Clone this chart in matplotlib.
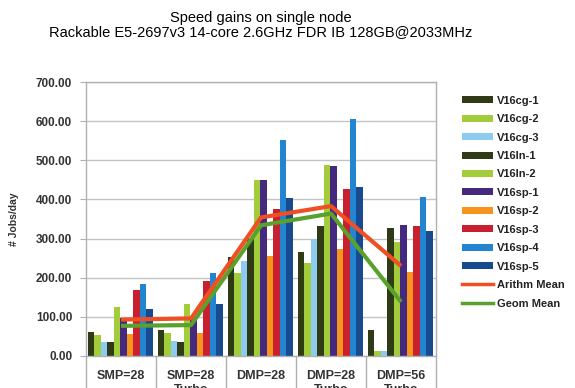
import numpy as np
import matplotlib.pyplot as plt
from matplotlib.patches import Patch
from matplotlib.lines import Line2D

plt.rcParams["font.family"] = ["Liberation Sans", "DejaVu Sans"]

categories = ["SMP=28", "SMP=28\nTurbo", "DMP=28", "DMP=28\nTurbo", "DMP=56\nTurbo"]

series_names = ["V16cg-1", "V16cg-2", "V16cg-3", "V16ln-1", "V16ln-2",
                "V16sp-1", "V16sp-2", "V16sp-3", "V16sp-4", "V16sp-5"]

cg1 = [62, 66, 252, 267, 66]
cg2 = [54, 58, 212, 238, 14]
cg3 = [37, 38, 243, 299, 14]
ln1 = [35, 36, 300, 333, 326]
ln2 = [124, 133, 451, 488, 292]
sp1 = [97, 95, 451, 485, 335]
sp2 = [56, 58, 255, 273, 215]
sp3 = [168, 191, 376, 428, 331]
sp4 = [184, 212, 551, 605, 406]
sp5 = [120, 134, 403, 432, 320]

arith_mean = [93, 96, 354, 383, 230]
geom_mean = [77, 79, 334, 364, 138]

series_values = [cg1, cg2, cg3, ln1, ln2, sp1, sp2, sp3, sp4, sp5]
colors = ["#2f3b17", "#a3cc3a", "#8ecbf0", "#2f3b17", "#a3cc3a",
          "#45297e", "#f7941d", "#c8202f", "#2385d0", "#174a8f"]

fig = plt.figure(figsize=(5.75, 3.88), dpi=100)
ax = fig.add_axes([0.1496, 0.0825, 0.6087, 0.706])

x = np.arange(len(categories))
n = len(series_names)
w = 0.093
for i, (vals, c) in enumerate(zip(series_values, colors)):
    offs = (i - (n - 1) / 2) * w - 0.01
    ax.bar(x + offs, vals, width=w, color=c, zorder=2, linewidth=0)

# mean lines, red drawn over green
ax.plot(x, geom_mean, color="#5aa02c", linewidth=3, zorder=3, solid_capstyle="butt")
ax.plot(x, arith_mean, color="#f04e23", linewidth=3, zorder=4, solid_capstyle="butt")

ax.set_xlim(-0.5, len(categories) - 0.5)
ax.set_ylim(0, 700)
ax.set_yticks(np.arange(0, 701, 100))
ax.set_yticklabels([f"{v:.2f}" for v in np.arange(0, 701, 100)])
ax.yaxis.grid(True, color="#c4c4c4", linewidth=1, zorder=0)
ax.set_axisbelow(True)

# category labels at centers, long divider ticks between groups
ax.set_xticks(x)
ax.set_xticklabels(categories)
ax.set_xticks(np.arange(-0.5, len(categories)), minor=True)
ax.tick_params(axis="x", which="major", length=0, pad=10)
ax.tick_params(axis="x", which="minor", length=24, color="#b0b0b0", width=1)
ax.tick_params(axis="y", length=4, color="#b0b0b0", pad=6)
for lab in ax.get_xticklabels() + ax.get_yticklabels():
    lab.set_fontweight("bold")
    lab.set_fontsize(8.5)
    lab.set_color("#333333")
for lab in ax.get_xticklabels():
    lab.set_verticalalignment("top")
    lab.set_fontsize(9)

for s in ax.spines.values():
    s.set_color("#b0b0b0")
    s.set_linewidth(1)

ax.set_ylabel("# Jobs/day", fontsize=7.5, fontweight="bold", color="#333333", labelpad=12)

fig.text(0.454, 0.972, "Speed gains on single node\nRackable E5-2697v3 14-core 2.6GHz FDR IB 128GB@2033MHz",
         ha="center", va="top", fontsize=10.5, color="#000000", linespacing=1.05)

handles = [Patch(facecolor=c, edgecolor="none") for c in colors]
handles += [Line2D([], [], color="#f04e23", linewidth=2.5),
            Line2D([], [], color="#5aa02c", linewidth=2.5)]
labels = series_names + ["Arithm Mean", "Geom Mean"]
leg = fig.legend(handles, labels, loc="upper left", bbox_to_anchor=(0.795, 0.765),
                 frameon=False, fontsize=8, handlelength=2.8, handleheight=0.6,
                 labelspacing=0.76, handletextpad=0.4, borderaxespad=0)
for t in leg.get_texts():
    t.set_fontweight("bold")
    t.set_color("#222222")

fig.savefig("out.png", dpi=100)
